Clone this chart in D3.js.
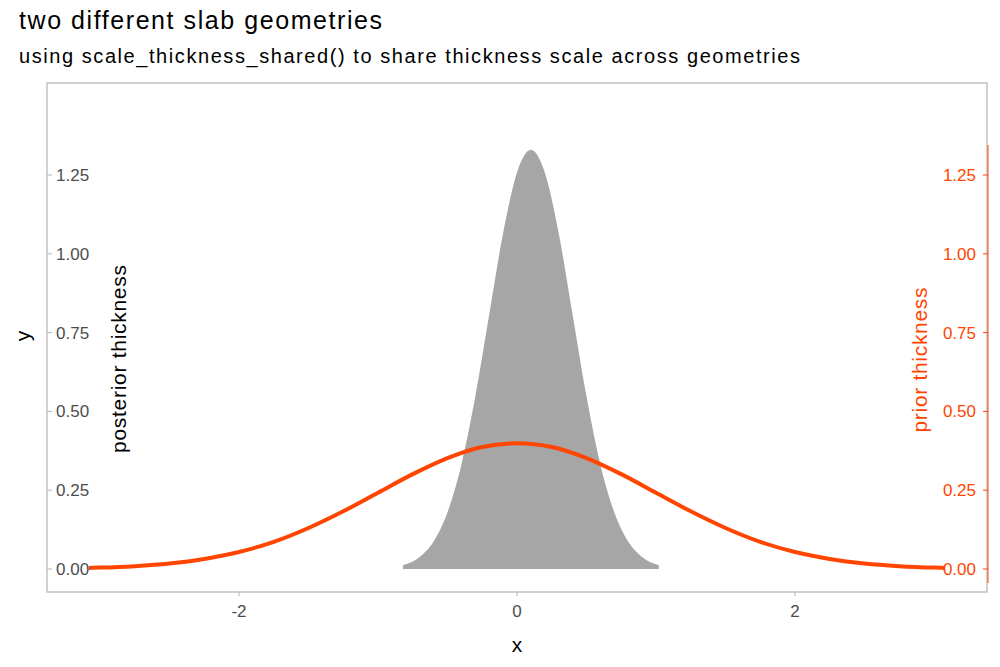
<!DOCTYPE html><html><head><meta charset="utf-8">
<script src="https://cdn.jsdelivr.net/npm/d3@7"></script>
<style>body{margin:0;background:#fff;font-family:Arial,"Liberation Sans",sans-serif}</style></head><body>
<svg id="c" width="1000" height="667"></svg>
<script>
const yTicks=[0,0.25,0.5,0.75,1.0,1.25];
const xTicks=[-2,0,2];
const postX=[-0.82,-0.7,-0.6,-0.5,-0.4,-0.3,-0.2,-0.1,0,0.1,0.2,0.3,0.4,0.5,0.6,0.7,0.8,0.9,1.02];
const postY=[0.012,0.038,0.087,0.18,0.331,0.547,0.807,1.065,1.258,1.33,1.258,1.065,0.807,0.547,0.331,0.18,0.087,0.038,0.012];
const priorX=[-3.08,-3,-2.75,-2.5,-2.25,-2,-1.75,-1.5,-1.25,-1,-0.75,-0.5,-0.25,0,0.25,0.5,0.75,1,1.25,1.5,1.75,2,2.25,2.5,2.75,3,3.08];
const priorY=[0.0035,0.0044,0.0091,0.0175,0.032,0.054,0.086,0.130,0.183,0.242,0.301,0.352,0.387,0.399,0.387,0.352,0.301,0.242,0.183,0.130,0.086,0.054,0.032,0.0175,0.0091,0.0044,0.0035];
const svg=d3.select("#c");
const L=47,R=987,T=83,B=592;
const x=d3.scaleLinear().domain([-2,2]).range([239,795]);
const y=d3.scaleLinear().domain([0,1.25]).range([569,175]);
const red="#ff4500",gray="#4d4d4d";
svg.append("text").attr("x",19).attr("y",29).attr("font-size",25).attr("textLength",363).attr("fill","#000").text("two different slab geometries");
svg.append("text").attr("x",19).attr("y",63).attr("font-size",20).attr("textLength",781).attr("fill","#000").text("using scale_thickness_shared() to share thickness scale across geometries");
svg.append("path").datum(postX.map((d,i)=>[d,postY[i]]))
 .attr("d",d3.area().x(d=>x(d[0])).y0(y(0)).y1(d=>y(d[1])).curve(d3.curveMonotoneX))
 .attr("fill","#a6a6a6");
svg.append("path").datum(priorX.map((d,i)=>[d,priorY[i]]))
 .attr("d",d3.line().x(d=>x(d[0])).y(d=>y(d[1])).curve(d3.curveMonotoneX))
 .attr("fill","none").attr("stroke",red).attr("stroke-width",4);
svg.append("rect").attr("x",L).attr("y",T).attr("width",R-L).attr("height",B-T).attr("fill","none").attr("stroke","#b3b3b3").attr("stroke-width",1.2);
yTicks.forEach(t=>{
 svg.append("line").attr("x1",L).attr("x2",L+5).attr("y1",y(t)).attr("y2",y(t)).attr("stroke","#b3b3b3");
 svg.append("text").attr("x",56).attr("y",y(t)+6).attr("font-size",17).attr("fill",gray).text(t.toFixed(2));
});
svg.append("line").attr("x1",988).attr("x2",988).attr("y1",145).attr("y2",583).attr("stroke",red).attr("stroke-width",1);
yTicks.forEach(t=>{
 svg.append("line").attr("x1",983).attr("x2",988).attr("y1",y(t)).attr("y2",y(t)).attr("stroke",red);
 svg.append("text").attr("x",976).attr("y",y(t)+6).attr("text-anchor","end").attr("font-size",17).attr("fill",red).text(t.toFixed(2));
});
xTicks.forEach(t=>{
 svg.append("line").attr("x1",x(t)).attr("x2",x(t)).attr("y1",B).attr("y2",B+4).attr("stroke","#b3b3b3");
 svg.append("text").attr("x",x(t)).attr("y",B+25).attr("text-anchor","middle").attr("font-size",17).attr("fill",gray).text(t);
});
svg.append("text").attr("x",517).attr("y",652).attr("text-anchor","middle").attr("font-size",21).text("x");
svg.append("text").attr("transform","translate(30,336) rotate(-90)").attr("text-anchor","middle").attr("font-size",21).text("y");
svg.append("text").attr("transform","translate(126,359) rotate(-90)").attr("text-anchor","middle").attr("font-size",21).attr("textLength",188).text("posterior thickness");
svg.append("text").attr("transform","translate(927,360) rotate(-90)").attr("text-anchor","middle").attr("font-size",21).attr("textLength",145).attr("fill",red).text("prior thickness");
</script></body></html>
